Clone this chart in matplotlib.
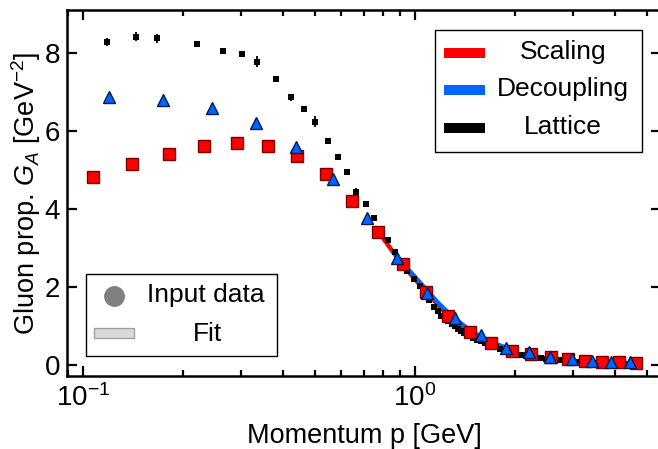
import matplotlib
matplotlib.use("Agg")
import matplotlib.pyplot as plt
from matplotlib.patches import Rectangle

plt.rcParams['font.family'] = ['Liberation Sans', 'DejaVu Sans']
plt.rcParams['mathtext.fontset'] = 'custom'
plt.rcParams['mathtext.rm'] = 'Liberation Sans'
plt.rcParams['mathtext.it'] = 'Liberation Sans:italic'
plt.rcParams['mathtext.bf'] = 'Liberation Sans:bold'

# ---------------- data ----------------
lattice_p = [0.1184, 0.1444, 0.1667, 0.220, 0.2635, 0.3006, 0.3336, 0.3814, 0.4231,
             0.464, 0.4997, 0.5458, 0.5875, 0.625, 0.663, 0.7104, 0.7524, 0.8275,
             0.8705, 0.948, 0.995, 1.035, 1.10, 1.14, 1.17,
             1.20, 1.23, 1.26, 1.29, 1.32, 1.35, 1.38, 1.41, 1.44, 1.47, 1.50,
             1.54, 1.58, 1.62, 1.66, 1.70, 1.75, 1.80, 1.85, 1.90, 1.95, 2.00,
             2.06, 2.12, 2.18, 2.25, 2.32, 2.40, 2.48, 2.56, 2.65, 2.74, 2.84,
             2.94, 3.05, 3.16, 3.28, 3.40, 3.55, 3.70, 3.85, 4.00, 4.20, 4.40]
lattice_G = [8.29, 8.42, 8.37, 8.24, 8.05, 7.97, 7.78, 7.33, 6.86,
             6.56, 6.24, 5.74, 5.32, 4.94, 4.44, 4.13, 3.78, 3.21,
             2.89, 2.42, 2.21, 2.02, 1.68, 1.50, 1.39,
             1.27, 1.20, 1.13, 1.06, 0.99, 0.93, 0.88, 0.83, 0.78, 0.74, 0.70,
             0.65, 0.61, 0.56, 0.53, 0.49, 0.46, 0.42, 0.38, 0.35, 0.32, 0.30,
             0.27, 0.25, 0.23, 0.21, 0.19, 0.17, 0.16, 0.14, 0.13, 0.12, 0.11,
             0.10, 0.09, 0.08, 0.07, 0.07, 0.06, 0.05, 0.05, 0.04, 0.04, 0.03]
lattice_err = [0.10, 0.12, 0.12, 0.06, 0.05, 0.05, 0.15, 0.04, 0.08,
               0.06, 0.15, 0.05, 0.04, 0.05, 0.10, 0.05, 0.05, 0.05,
               0.05, 0.05, 0.05, 0.05, 0.06, 0.06, 0.06,
               0.06, 0.06, 0.06, 0.06, 0.06, 0.06, 0.06, 0.06, 0.06, 0.06, 0.06,
               0.06, 0.06, 0.06, 0.06, 0.06, 0.06, 0.06, 0.06, 0.06, 0.06, 0.06,
               0.05, 0.05, 0.05, 0.05, 0.05, 0.05, 0.05, 0.05, 0.05, 0.05, 0.05,
               0.04, 0.04, 0.04, 0.04, 0.04, 0.04, 0.04, 0.04, 0.04, 0.04, 0.04]

scaling_p = [0.107, 0.1408, 0.182, 0.2314, 0.2904, 0.360, 0.442, 0.538, 0.6474,
             0.775, 0.918, 1.079, 1.26, 1.464, 1.693, 1.955, 2.23, 2.563, 2.895,
             3.25, 3.666, 4.116, 4.62]
scaling_G = [4.83, 5.15, 5.42, 5.62, 5.70, 5.62, 5.37, 4.89, 4.21,
             3.42, 2.58, 1.86, 1.26, 0.84, 0.57, 0.37, 0.28, 0.20, 0.15,
             0.11, 0.09, 0.08, 0.06]

decoupling_p = [0.120, 0.1738, 0.244, 0.331, 0.437, 0.565, 0.715, 0.884, 1.084,
                1.32, 1.58, 1.88, 2.21, 2.56, 2.965, 3.405, 3.894, 4.44]
decoupling_G = [6.87, 6.79, 6.60, 6.21, 5.60, 4.76, 3.76, 2.74, 1.85,
                1.20, 0.77, 0.45, 0.33, 0.21, 0.15, 0.11, 0.09, 0.07]

fit_p = [0.78, 0.85, 0.92, 1.0, 1.08, 1.17, 1.26, 1.36, 1.46, 1.57, 1.69, 1.82, 1.95]
scaling_fit = [3.40, 2.95, 2.56, 2.20, 1.88, 1.55, 1.27, 1.03, 0.84, 0.69, 0.56, 0.45, 0.37]
decoupling_fit = [3.30, 2.95, 2.60, 2.26, 1.94, 1.61, 1.34, 1.10, 0.90, 0.74, 0.60, 0.49, 0.40]

legend_labels = ["Scaling", "Decoupling", "Lattice"]
y_ticks = [0, 2, 4, 6, 8]

RED = '#ff0000'
BLUE = '#0064ff'

# ---------------- figure ----------------
fig = plt.figure(figsize=(6.58, 4.49), dpi=100)
W, H = 658, 449
l, r, t, b = 67, 661, 10, 376
ax = fig.add_axes([l / W, 1 - b / H, (r - l) / W, (b - t) / H])

ax.plot(fit_p, scaling_fit, color=RED, lw=3.2, zorder=2, solid_capstyle='butt')
ax.plot(fit_p[1:], decoupling_fit[1:], color=BLUE, lw=3.2, zorder=2.1, solid_capstyle='butt')

ax.errorbar(lattice_p, lattice_G, yerr=lattice_err, fmt='s', color='black',
            ms=4.8, mew=0, elinewidth=1.3, capsize=3.0, capthick=1.5, zorder=3)
ax.plot(scaling_p, scaling_G, 's', ms=8.6, mfc=RED, mec='#7a0000', mew=1.0, zorder=4)
ax.plot(decoupling_p, decoupling_G, '^', ms=9.0, mfc=BLUE, mec='#001a4d', mew=1.0, zorder=5)

ax.set_xscale('log')
ax.set_xlim(0.0895, 5.51)
ax.set_ylim(-0.28, 9.1)
ax.set_yticks(y_ticks)
ax.set_yticklabels([str(v) for v in y_ticks])

ax.tick_params(which='both', direction='in', top=True, right=True, labelsize=20,
               width=1.6, pad=5)
ax.tick_params(which='major', length=7)
ax.tick_params(which='minor', length=4.5)
ax.tick_params(axis='x', which='major', pad=6)
for s in ax.spines.values():
    s.set_linewidth(1.8)

ax.set_xlabel('Momentum p [GeV]', fontsize=19.5, labelpad=8)
ax.set_ylabel(r'Gluon prop. $G_A$ [GeV$^{-2}$]', fontsize=19.5, labelpad=1)

# ---------------- legend 1 (upper right) ----------------
ax.add_patch(Rectangle((0.6195, 0.612), 0.3485, 0.3334, transform=ax.transAxes,
                       facecolor='white', edgecolor='black', lw=1.0, zorder=6))
for lab, col, yc in zip(legend_labels, [RED, BLUE, 'black'], [0.8825, 0.7814, 0.6776]):
    ax.add_patch(Rectangle((0.6347, yc - 0.0137), 0.069, 0.0273, transform=ax.transAxes,
                           facecolor=col, edgecolor='none', zorder=7))
    ax.text(0.835, yc + 0.004, lab, transform=ax.transAxes, ha='center', va='center',
            fontsize=19, zorder=7)

# ---------------- legend 2 (lower left) ----------------
ax.add_patch(Rectangle((0.032, 0.0546), 0.3215, 0.2241, transform=ax.transAxes,
                       facecolor='white', edgecolor='black', lw=1.0, zorder=6))
ax.plot([0.0791], [0.2194], 'o', ms=14, color='#808080', transform=ax.transAxes,
        zorder=7, clip_on=False)
ax.text(0.234, 0.2214, 'Input data', transform=ax.transAxes, ha='center', va='center',
        fontsize=19, zorder=7)
ax.add_patch(Rectangle((0.0455, 0.1038), 0.0673, 0.0273, transform=ax.transAxes,
                       facecolor='#d9d9d9', edgecolor='#a0a0a0', lw=1.0, zorder=7))
ax.text(0.2357, 0.114, 'Fit', transform=ax.transAxes, ha='center', va='center',
        fontsize=19, zorder=7)

fig.savefig('out.png', dpi=100)
